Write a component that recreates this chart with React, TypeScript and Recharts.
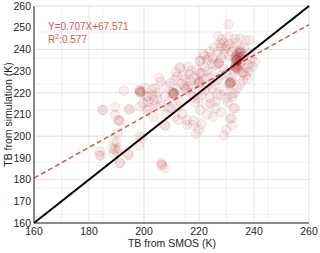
import {
  CartesianGrid,
  ReferenceLine,
  Scatter,
  ScatterChart,
  XAxis,
  YAxis,
} from "recharts";

const smos = [
  184.0, 183.7, 184.3, 188.6, 188.8, 190.7, 190.0, 189.5, 191.3, 191.3, 194.3, 194.3, 198.2, 198.5, 199.2, 190.3, 189.2, 190.2,
  206.4, 207.6, 206.7, 206.4,
  184.8, 185.2, 189.5, 189.6, 194.7, 194.5, 190.8, 190.7, 192.7, 198.5, 199.2, 198.5, 198.3, 198.7, 200.4, 202.9, 201.6, 203.6, 199.7, 201.2, 198.5, 201.0, 191.3,
  201.5, 203.0, 204.0, 205.0, 206.0, 207.6, 207.7, 208.0, 209.0, 210.0, 210.7, 210.5, 211.0, 210.9, 211.3, 212.5, 212.5, 213.0, 214.0, 215.5, 215.5, 213.5, 212.0, 208.0, 206.0, 205.0, 202.0, 203.5, 209.0, 211.0,
  218.0, 220.4, 221.0, 220.0, 219.0, 223.0, 225.0, 231.3, 233.1, 232.5, 231.9, 232.0, 230.0, 229.0, 215.6, 217.8, 226.0, 228.0,
  227.6, 228.0, 229.0, 230.0, 231.0, 232.5, 233.5, 235.0, 230.7, 230.7, 227.0, 225.5, 224.0, 222.0, 220.4, 220.4, 221.5, 223.0, 225.0, 226.0,
  227.0, 227.2, 228.0, 229.0, 231.0, 232.0, 233.0, 234.9, 235.5, 234.9, 233.7, 233.7, 233.1, 234.0, 235.0, 236.0, 237.0, 238.0, 238.5, 237.0,
  235.0, 233.0, 239.2, 240.4, 238.0, 237.0, 236.0, 235.0, 234.0, 233.0, 232.0, 230.0, 231.3, 231.0, 232.0, 230.0, 229.0, 228.0, 227.0, 226.0,
  225.0, 224.6, 224.0, 223.0, 222.0, 221.0, 220.4, 220.0, 219.7, 218.0, 217.0, 216.0, 213.1, 213.1, 214.0, 215.0, 216.0, 217.0, 218.0, 219.7,
  221.0, 222.0, 223.0, 224.0, 226.0, 228.0, 229.0, 220.4, 220.0, 216.5, 214.5, 212.0, 209.5, 207.5, 205.5, 204.0, 211.5, 217.5, 222.5, 226.5,
  233.8, 233.5, 234.2, 233.6, 234.0, 233.4, 234.6, 235.2, 234.5, 233.9, 234.3, 233.2, 231.5, 231.0, 231.8, 211.0, 210.3, 227.3, 233.4, 232.8,
  236.5, 238.8, 239.5, 237.5, 236.2, 229.5, 228.2, 226.8, 224.8, 223.5, 221.8, 219.2, 216.8, 214.8, 218.5, 230.5, 232.2, 235.8, 237.8, 224.2,
  233.7, 233.9, 234.8, 235.0, 231.3, 231.5, 210.7, 198.6, 233.3, 233.5,
];

const sim = [
  192.9, 191.3, 191.0, 194.4, 192.1, 194.4, 197.2, 194.1, 187.8, 187.5, 191.8, 191.3, 195.5, 199.8, 199.0, 201.3, 197.0, 193.0,
  187.8, 185.2, 186.5, 187.0,
  212.1, 212.1, 213.6, 209.8, 212.4, 212.4, 207.1, 207.5, 221.0, 221.0, 220.5, 220.2, 221.3, 220.0, 222.1, 221.5, 218.2, 216.7, 215.2, 212.1, 213.6, 218.2, 207.0,
  216.0, 219.0, 222.0, 217.0, 214.0, 205.2, 204.7, 210.0, 213.0, 212.9, 219.8, 219.5, 220.0, 219.6, 209.0, 207.6, 213.6, 216.0, 210.0, 207.5, 221.3, 224.0, 222.0, 223.0, 225.0, 220.0, 213.0, 209.0, 216.0, 226.0,
  207.1, 212.1, 205.5, 203.0, 201.0, 210.0, 209.0, 208.2, 212.9, 212.9, 208.2, 205.0, 203.0, 200.5, 205.2, 205.2, 213.0, 211.0,
  242.8, 241.0, 243.0, 241.5, 242.5, 241.0, 243.0, 240.0, 245.9, 251.6, 246.0, 241.0, 239.0, 237.0, 234.8, 234.7, 238.0, 235.0, 236.0, 233.0,
  233.6, 233.4, 236.0, 238.0, 237.0, 239.0, 236.0, 238.5, 239.0, 236.2, 235.1, 231.3, 232.0, 233.0, 234.0, 237.0, 235.0, 233.0, 244.3, 244.0,
  245.0, 245.0, 235.9, 234.3, 230.0, 228.0, 226.0, 224.0, 222.0, 220.0, 218.0, 217.5, 224.4, 225.0, 227.0, 229.0, 231.0, 228.0, 226.0, 224.0,
  222.0, 229.7, 227.0, 230.0, 232.0, 229.0, 229.0, 226.0, 224.4, 227.0, 230.0, 232.0, 231.3, 232.0, 228.0, 226.0, 223.0, 220.0, 218.0, 217.5,
  219.0, 221.0, 223.0, 218.0, 216.0, 219.0, 221.0, 225.1, 224.5, 228.5, 223.5, 227.5, 224.5, 218.5, 227.0, 214.5, 229.5, 222.5, 214.5, 219.5,
  235.3, 236.0, 234.6, 237.2, 238.2, 233.8, 236.8, 238.3, 232.5, 231.8, 230.5, 231.6, 224.6, 223.8, 225.2, 219.2, 220.4, 234.0, 234.8, 229.6,
  240.8, 238.5, 232.0, 231.5, 228.8, 240.2, 244.5, 238.8, 233.5, 236.5, 226.5, 230.6, 225.5, 221.8, 215.5, 215.5, 219.5, 229.5, 226.5, 215.0,
  235.4, 231.2, 238.8, 236.4, 224.3, 224.7, 219.9, 220.6, 232.2, 236.8,
];

const points = smos.map((x, i) => ({ x, y: sim[i] }));

// least-squares fit printed on the figure
const slope = 0.707;
const intercept = 67.571;
const xMin = 160;
const xMax = 260;

const xTicks = [160, 180, 200, 220, 240, 260];
const yTicks = [160, 170, 180, 190, 200, 210, 220, 230, 240, 250, 260];
const xMinor = Array.from({ length: 21 }, (_, i) => 160 + i * 5);
const yMinor = Array.from({ length: 51 }, (_, i) => 160 + i * 2);

const font = '"Liberation Sans", Arial, Helvetica, sans-serif';
const axisColor = "#262626";
const fitColor = "#d75656";
const markColor = "#9e1616";

const Dot = (props: any) => (
  <circle
    cx={props.cx}
    cy={props.cy}
    r={4.7}
    fill={markColor}
    fillOpacity={0.065}
    stroke={markColor}
    strokeOpacity={0.12}
    strokeWidth={0.8}
  />
);

export default function App() {
  return (
    <div style={{ position: "absolute", left: 0, top: 0, width: 320, height: 253, background: "#fff" }}>
      <ScatterChart
        width={320}
        height={253}
        margin={{ top: 6, right: 11, bottom: 0, left: 0 }}
        style={{ fontFamily: font }}
      >
        <CartesianGrid
          stroke="#f0f0f0"
          strokeWidth={1}
          verticalValues={xMinor}
          horizontalValues={yMinor}
        />
        <CartesianGrid
          stroke="#e3e3e3"
          strokeWidth={1}
          verticalValues={xTicks}
          horizontalValues={yTicks}
        />
        <XAxis
          type="number"
          dataKey="x"
          domain={[xMin, xMax]}
          ticks={xTicks}
          allowDataOverflow
          height={30}
          tickLine={false}
          tickSize={0}
          tickMargin={5}
          stroke={axisColor}
          tick={{ fontSize: 10.5, fill: axisColor }}
        />
        <YAxis
          type="number"
          dataKey="y"
          domain={[160, 260]}
          ticks={yTicks}
          allowDataOverflow
          width={34}
          tickLine={false}
          tickSize={0}
          tickMargin={3}
          stroke={axisColor}
          tick={{ fontSize: 10.5, fill: axisColor }}
        />
        <Scatter data={points} shape={Dot} isAnimationActive={false} />
        <ReferenceLine
          segment={[
            { x: xMin, y: xMin },
            { x: xMax, y: xMax },
          ]}
          stroke="#000"
          strokeWidth={2}
        />
        <ReferenceLine
          segment={[
            { x: xMin, y: slope * xMin + intercept },
            { x: xMax, y: slope * xMax + intercept },
          ]}
          stroke={fitColor}
          strokeWidth={1.5}
          strokeDasharray="5 3"
        />
      </ScatterChart>
      <svg
        width={320}
        height={253}
        style={{ position: "absolute", left: 0, top: 0, pointerEvents: "none", fontFamily: font }}
      >
        <text x={48} y={30} fontSize={10} fill={fitColor}>
          Y=0.707X+67.571
        </text>
        <text x={48} y={43} fontSize={10} fill={fitColor}>
          R<tspan fontSize={7} dy={-4}>2</tspan>
          <tspan dy={4}>:0.577</tspan>
        </text>
        <text x={172} y={247} fontSize={10.5} fill={axisColor} textAnchor="middle">
          TB from SMOS (K)
        </text>
        <text
          x={0}
          y={0}
          fontSize={10.5}
          fill={axisColor}
          textAnchor="middle"
          transform="translate(12 114.5) rotate(-90)"
        >
          TB from simulation (K)
        </text>
      </svg>
    </div>
  );
}
